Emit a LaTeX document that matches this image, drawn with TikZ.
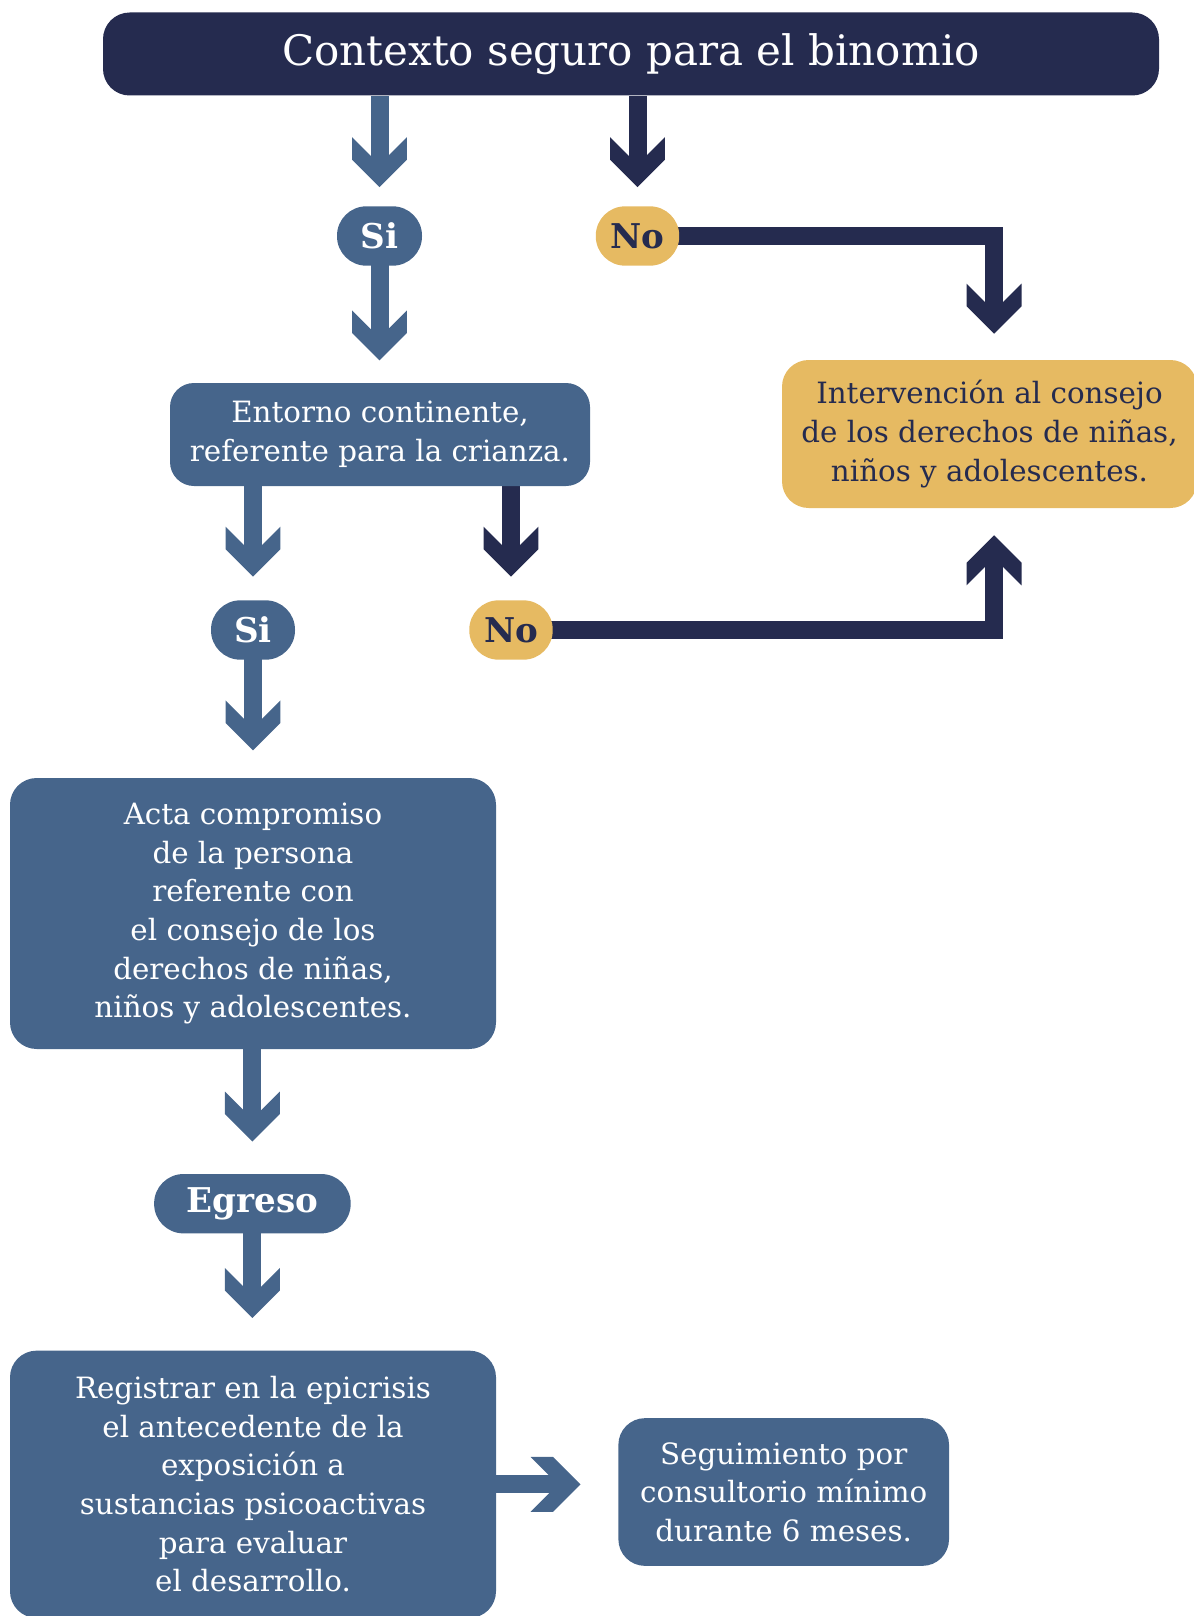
\documentclass[tikz,border=0pt]{standalone}
\usepackage{fontspec}
\setmainfont{DejaVu Serif}
\usetikzlibrary{arrows.meta,backgrounds}
\definecolor{navy}{HTML}{252B4F}
\definecolor{steel}{HTML}{46658B}
\definecolor{gold}{HTML}{E6BA62}
\pgfdeclarearrow{
  name=Chev,
  setup code={
    \pgfarrowssettipend{0pt}
    \pgfarrowssetlineend{-14pt}
    \pgfarrowssetbackend{-37.5pt}
    \pgfarrowshullpoint{0pt}{0pt}
    \pgfarrowsupperhullpoint{-37.5pt}{20.6pt}
  },
  drawing code={
    \pgfpathmoveto{\pgfqpoint{0pt}{0pt}}
    \pgfpathlineto{\pgfqpoint{-20.6pt}{20.6pt}}
    \pgfpathlineto{\pgfqpoint{-37.5pt}{20.6pt}}
    \pgfpathlineto{\pgfqpoint{-16.9pt}{0pt}}
    \pgfpathlineto{\pgfqpoint{-37.5pt}{-20.6pt}}
    \pgfpathlineto{\pgfqpoint{-20.6pt}{-20.6pt}}
    \pgfpathclose
    \pgfusepathqfill
  }
}
\begin{document}
\begin{tikzpicture}[x=0.75pt, y=-0.75pt,
    box/.style={fill=steel, text=white, rounded corners=20pt, align=center, inner sep=0pt,
      font=\fontsize{22}{29}\selectfont},
    pill/.style={fill=steel, text=white, rounded corners=22pt, inner sep=0pt,
      minimum height=44.5pt, font=\fontsize{25.6}{29}\selectfont\bfseries},
    fat/.style={line width=13.5pt, -Chev, color=#1},
    fat/.default=steel]
  \useasboundingbox (0,0) rectangle (1193,1616);

  \node[box, fill=navy, minimum width=792pt, minimum height=62.25pt, font=\fontsize{31.5}{36}\selectfont] (1) at (631,54) {Contexto seguro para el binomio};
  \node[pill, minimum width=63.75pt] (2) at (379.5,236) {Si};
  \node[pill, fill=gold, text=navy, minimum width=62.6pt] (3) at (637.5,236) {No};
  \node[box, minimum width=315pt, minimum height=77.25pt, rounded corners=18pt] (4) at (380,434.5) {Entorno continente,\\referente para la crianza.};
  \node[box, fill=gold, text=navy, minimum width=311.25pt, minimum height=111pt] (5) at (989.5,434) {Intervención al consejo\\de los derechos de niñas,\\niños y adolescentes.};
  \node[pill, minimum width=63pt] (6) at (253,630) {Si};
  \node[pill, fill=gold, text=navy, minimum width=62.6pt] (7) at (511,630) {No};
  \node[box, minimum width=364.5pt, minimum height=203.25pt] (8) at (253,913.5) {Acta compromiso\\de la persona\\referente con\\el consejo de los\\derechos de niñas,\\niños y adolescentes.};
  \node[pill, minimum width=147.4pt] (9) at (252.4,1203.7) {Egreso};
  \node[box, minimum width=364.5pt, minimum height=200.5pt] (10) at (253,1484.3) {Registrar en la epicrisis\\el antecedente de la\\exposición a\\sustancias psicoactivas\\para evaluar\\el desarrollo.};
  \node[box, minimum width=248pt, minimum height=110.8pt] (11) at (783.7,1492) {Seguimiento por\\consultorio mínimo\\durante 6 meses.};

  \begin{scope}[on background layer]
    \draw[fat, shorten >=14.25pt] (2 |- 1.south) -- (2);
    \draw[fat=navy, shorten >=14.25pt] (3 |- 1.south) -- (3);
    \draw[fat=navy, shorten >=19.5pt] (3.center) -| ([xshift=3.4pt]5.north);
    \draw[fat, shorten >=16.7pt] (2.center) -- (4.north -| 2);
    \draw[fat, shorten >=17.5pt] (6 |- 4.south) -- (6);
    \draw[fat=navy, shorten >=17.5pt] (7 |- 4.south) -- (7);
    \draw[fat=navy, shorten >=20.25pt] (7.center) -| ([xshift=3.4pt]5.south);
    \draw[fat, shorten >=20.5pt] (6.center) -- (8.north -| 6);
    \draw[fat, shorten >=24.2pt] (8.south -| 9) -- (9);
    \draw[fat, shorten >=24.3pt] (9.center) -- (10.north -| 9);
    \draw[fat, shorten >=28.2pt] (10.east) -- (10.east -| 11.west);
  \end{scope}
\end{tikzpicture}
\end{document}
